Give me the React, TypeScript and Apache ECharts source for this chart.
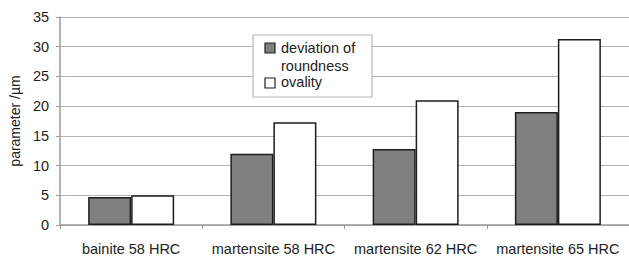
import React, { useEffect, useRef } from "react";
import * as echarts from "echarts";

const categories = ["bainite 58 HRC", "martensite 58 HRC", "martensite 62 HRC", "martensite 65 HRC"];
const deviationOfRoundness = [4.7, 12.0, 12.8, 19.0];
const ovality = [5.0, 17.3, 21.0, 31.3];
const seriesNames = ["deviation of roundness", "ovality"];
const yTicks = { min: 0, max: 35, interval: 5 };

const FONT = "'Liberation Sans', Arial, sans-serif";
const FS = 14.5;

export default function App() {
  const ref = useRef<HTMLDivElement>(null);
  useEffect(() => {
    if (!ref.current) return;
    const chart = echarts.init(ref.current, undefined, { renderer: "svg" });
    chart.setOption({
      animation: false,
      backgroundColor: "#ffffff",
      textStyle: { fontFamily: FONT },
      grid: { left: 57, top: 17, height: 208, width: 575 },
      xAxis: {
        type: "category",
        data: categories,
        axisLine: { show: true, lineStyle: { color: "#9a9a9a", width: 1.5 } },
        axisTick: { show: true, length: 4, lineStyle: { color: "#9a9a9a" } },
        axisLabel: { color: "#222", fontSize: FS, fontFamily: FONT, margin: 16, interval: 0, hideOverlap: false },
        splitLine: { show: false },
      },
      yAxis: {
        type: "value",
        min: yTicks.min,
        max: yTicks.max,
        interval: yTicks.interval,
        name: "parameter /\u00b5m",
        nameLocation: "middle",
        nameGap: 38,
        nameRotate: 90,
        nameTextStyle: { color: "#222", fontSize: 14, fontFamily: FONT },
        axisLine: { show: true, lineStyle: { color: "#9a9a9a", width: 1.5 } },
        axisTick: { show: true, length: 4, lineStyle: { color: "#9a9a9a" } },
        axisLabel: { color: "#222", fontSize: FS, fontFamily: FONT, margin: 11 },
        splitLine: { show: true, lineStyle: { color: "#b4b4b4", width: 1.2 } },
      },
      series: [
        {
          name: seriesNames[0],
          type: "bar",
          data: deviationOfRoundness,
          barWidth: 43,
          barGap: "0%",
          itemStyle: { color: "#808080", borderColor: "#1e1e1e", borderWidth: 1.5 },
        },
        {
          name: seriesNames[1],
          type: "bar",
          data: ovality,
          barWidth: 43,
          barGap: "0%",
          itemStyle: { color: "#ffffff", borderColor: "#1e1e1e", borderWidth: 1.5 },
        },
      ],
      graphic: [
        {
          type: "rect",
          shape: { x: 253, y: 35, width: 119, height: 62 },
          style: { fill: "#ffffff", stroke: "#b8b8b8", lineWidth: 1.2 },
          z: 10,
        },
        {
          type: "rect",
          shape: { x: 265, y: 43, width: 10, height: 10 },
          style: { fill: "#808080", stroke: "#1e1e1e", lineWidth: 1.2 },
          z: 11,
        },
        {
          type: "rect",
          shape: { x: 265, y: 78, width: 10, height: 10 },
          style: { fill: "#ffffff", stroke: "#1e1e1e", lineWidth: 1.2 },
          z: 11,
        },
        {
          type: "text",
          x: 281,
          y: 48,
          style: { text: "deviation of", fill: "#222", font: `${FS}px ${FONT}`, verticalAlign: "middle" },
          z: 11,
        },
        {
          type: "text",
          x: 281,
          y: 66,
          style: { text: "roundness", fill: "#222", font: `${FS}px ${FONT}`, verticalAlign: "middle" },
          z: 11,
        },
        {
          type: "text",
          x: 281,
          y: 82,
          style: { text: "ovality", fill: "#222", font: `${FS}px ${FONT}`, verticalAlign: "middle" },
          z: 11,
        },
      ],
    });
    return () => chart.dispose();
  }, []);
  return <div ref={ref} style={{ width: 629, height: 258, position: "absolute", left: 0, top: 0 }} />;
}
